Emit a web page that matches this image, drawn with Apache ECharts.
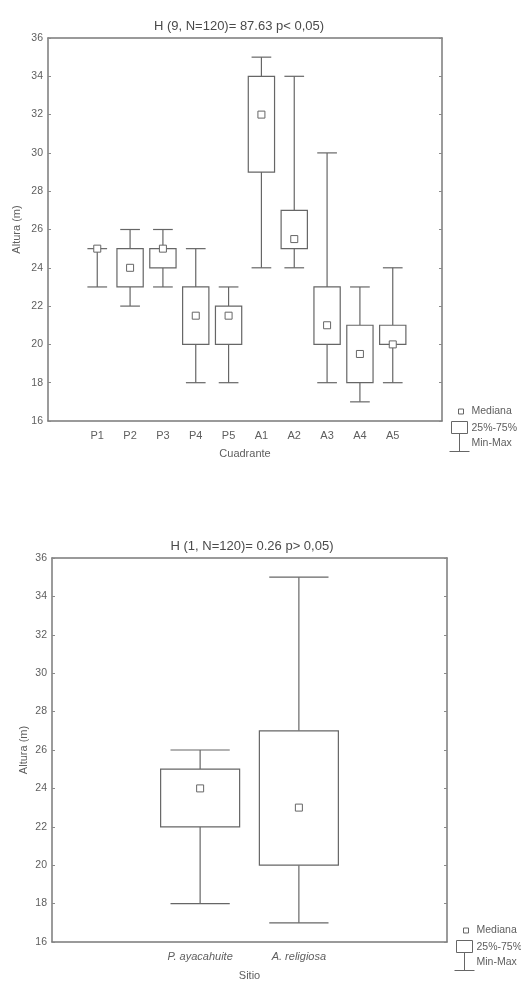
<!DOCTYPE html>
<html>
<head>
<meta charset="utf-8">
<script src="https://cdn.jsdelivr.net/npm/echarts@6/dist/echarts.min.js"></script>
<style>
  html, body { margin: 0; padding: 0; background: #fff; }
  #chart { width: 521px; height: 985px; }
</style>
</head>
<body>
<div id="chart"></div>
<script>
    // Kruskal-Wallis boxplots: altura por cuadrante y por sitio
    const cuadrantes = ['P1', 'P2', 'P3', 'P4', 'P5', 'A1', 'A2', 'A3', 'A4', 'A5'];
    const cuadMin = [23, 22, 23, 18, 18, 24, 24, 18, 17, 18];
    const cuadQ1 = [25, 23, 24, 20, 20, 29, 25, 20, 18, 20];
    const cuadMed = [25, 24, 25, 21.5, 21.5, 32, 25.5, 21, 19.5, 20];
    const cuadQ3 = [25, 25, 25, 23, 22, 34, 27, 23, 21, 21];
    const cuadMax = [25, 26, 26, 25, 23, 35, 34, 30, 23, 24];

    const sitios = ['P. ayacahuite', 'A. religiosa'];
    const sitioMin = [18, 17];
    const sitioQ1 = [22, 20];
    const sitioMed = [24, 23];
    const sitioQ3 = [25, 27];
    const sitioMax = [26, 35];

    const yTicks = [16, 36, 2]; // min, max, interval
    const titulo1 = 'H (9, N=120)= 87.63 p< 0,05)';
    const titulo2 = 'H (1, N=120)= 0.26 p> 0,05)';

    const lineColor = '#666';
    const textColor = '#5e5e5e';
    const fontFamily = 'Liberation Sans, Arial, sans-serif';

    // categorias con hueco vacio a cada lado, como en STATISTICA
    const cats1 = [''].concat(cuadrantes, ['']);
    const cats2 = [''].concat(sitios, ['']);

    function toRows(mins, q1s, meds, q3s, maxs) {
        return mins.map(function (m, i) {
            return [i + 1, m, q1s[i], meds[i], q3s[i], maxs[i]];
        });
    }

    function renderBox(params, api) {
        const x = api.value(0);
        const lo = api.coord([x, api.value(1)]);
        const q1 = api.coord([x, api.value(2)]);
        const md = api.coord([x, api.value(3)]);
        const q3 = api.coord([x, api.value(4)]);
        const hi = api.coord([x, api.value(5)]);
        const band = api.size([1, 0])[0];
        const bw = band * 0.8;
        const cw = band * 0.6;
        const cx = lo[0];
        const st = { stroke: lineColor, lineWidth: 1.2, fill: null };
        const children = [
            { type: 'line', shape: { x1: cx, y1: lo[1], x2: cx, y2: q1[1] }, style: st },
            { type: 'line', shape: { x1: cx, y1: q3[1], x2: cx, y2: hi[1] }, style: st },
            { type: 'line', shape: { x1: cx - cw / 2, y1: lo[1], x2: cx + cw / 2, y2: lo[1] }, style: st },
            { type: 'line', shape: { x1: cx - cw / 2, y1: hi[1], x2: cx + cw / 2, y2: hi[1] }, style: st }
        ];
        if (q1[1] - q3[1] > 0.5) {
            children.push({
                type: 'rect',
                shape: { x: cx - bw / 2, y: q3[1], width: bw, height: q1[1] - q3[1] },
                style: { stroke: lineColor, lineWidth: 1.2, fill: '#fff' }
            });
        }
        children.push({
            type: 'rect',
            shape: { x: cx - 3.5, y: md[1] - 3.5, width: 7, height: 7 },
            style: { stroke: lineColor, lineWidth: 1, fill: '#fff' }
        });
        return { type: 'group', children: children };
    }

    function legendGroup(x, y) {
        const st = { stroke: lineColor, lineWidth: 1, fill: '#fff' };
        const ts = { fill: textColor, fontSize: 10.5, fontFamily: fontFamily, verticalAlign: 'middle' };
        return {
            type: 'group', left: x, top: y, silent: true,
            children: [
                { type: 'rect', shape: { x: 7, y: -2.5, width: 5, height: 5 }, style: st },
                { type: 'text', x: 20, y: 0, style: Object.assign({ text: 'Mediana' }, ts) },
                { type: 'rect', shape: { x: 0, y: 10, width: 16, height: 12 }, style: st },
                { type: 'text', x: 20, y: 17, style: Object.assign({ text: '25%-75%' }, ts) },
                { type: 'line', shape: { x1: 8, y1: 22, x2: 8, y2: 40 }, style: st },
                { type: 'line', shape: { x1: -2, y1: 40, x2: 18, y2: 40 }, style: st },
                { type: 'text', x: 20, y: 32, style: Object.assign({ text: 'Min-Max' }, ts) }
            ]
        };
    }

    function catAxis(gi, cats, name, gap, italic) {
        return {
            type: 'category', gridIndex: gi, data: cats, boundaryGap: true,
            name: name, nameLocation: 'middle', nameGap: gap,
            nameTextStyle: { color: textColor, fontSize: 11, fontFamily: fontFamily },
            axisLine: { lineStyle: { color: '#7a7a7a', width: 1.5 } },
            axisTick: { alignWithLabel: true, inside: true, length: 3, lineStyle: { color: '#8a8a8a' } },
            axisLabel: { color: textColor, fontSize: 11, fontFamily: fontFamily, margin: 9,
                fontStyle: italic ? 'italic' : 'normal', interval: 0 },
            splitLine: { show: false }
        };
    }

    function topAxis(gi, cats) {
        return {
            type: 'category', gridIndex: gi, data: cats, position: 'top', boundaryGap: true,
            axisLine: { lineStyle: { color: '#7a7a7a', width: 1.5 } },
            axisTick: { alignWithLabel: true, inside: true, length: 3, lineStyle: { color: '#8a8a8a' } },
            axisLabel: { show: false }, splitLine: { show: false }
        };
    }

    function valAxis(gi, right, gap) {
        return {
            type: 'value', gridIndex: gi, min: yTicks[0], max: yTicks[1], interval: yTicks[2],
            position: right ? 'right' : 'left',
            name: right ? '' : 'Altura (m)', nameLocation: 'middle', nameGap: gap,
            nameMoveOverlap: false,
            nameTextStyle: { color: textColor, fontSize: 11, fontFamily: fontFamily },
            axisLine: { show: true, lineStyle: { color: '#7a7a7a', width: 1.5 } },
            axisTick: { show: true, inside: true, length: 3, lineStyle: { color: '#8a8a8a' } },
            axisLabel: { show: !right, color: textColor, fontSize: 10.5, fontFamily: fontFamily, margin: 5 },
            splitLine: { show: false }
        };
    }

    const chart = echarts.init(document.getElementById('chart'), null, { renderer: 'canvas' });
    chart.setOption({
        animation: false,
        backgroundColor: '#fff',
        textStyle: { fontFamily: fontFamily },
        title: [
            { text: titulo1, left: 234, top: 15, textAlign: 'center',
              textStyle: { color: '#4a4a4a', fontSize: 13, fontWeight: 'normal', fontFamily: fontFamily } },
            { text: titulo2, left: 247, top: 535, textAlign: 'center',
              textStyle: { color: '#4a4a4a', fontSize: 13, fontWeight: 'normal', fontFamily: fontFamily } }
        ],
        grid: [
            { left: 48, right: 79, top: 38, height: 383 },
            { left: 52, right: 74, top: 558, height: 384 }
        ],
        xAxis: [
            catAxis(0, cats1, 'Cuadrante', 27, false),
            catAxis(1, cats2, 'Sitio', 28, true),
            topAxis(0, cats1),
            topAxis(1, cats2)
        ],
        yAxis: [valAxis(0, false, 26), valAxis(1, false, 23), valAxis(0, true, 0), valAxis(1, true, 0)],
        series: [
            {
                type: 'custom', xAxisIndex: 0, yAxisIndex: 0,
                renderItem: renderBox, encode: { x: 0, y: [1, 2, 3, 4, 5] },
                data: toRows(cuadMin, cuadQ1, cuadMed, cuadQ3, cuadMax)
            },
            {
                type: 'custom', xAxisIndex: 1, yAxisIndex: 1,
                renderItem: renderBox, encode: { x: 0, y: [1, 2, 3, 4, 5] },
                data: toRows(sitioMin, sitioQ1, sitioMed, sitioQ3, sitioMax)
            }
        ],
        graphic: [legendGroup(449, 406), legendGroup(454, 925)]
    });
</script>
</body>
</html>
